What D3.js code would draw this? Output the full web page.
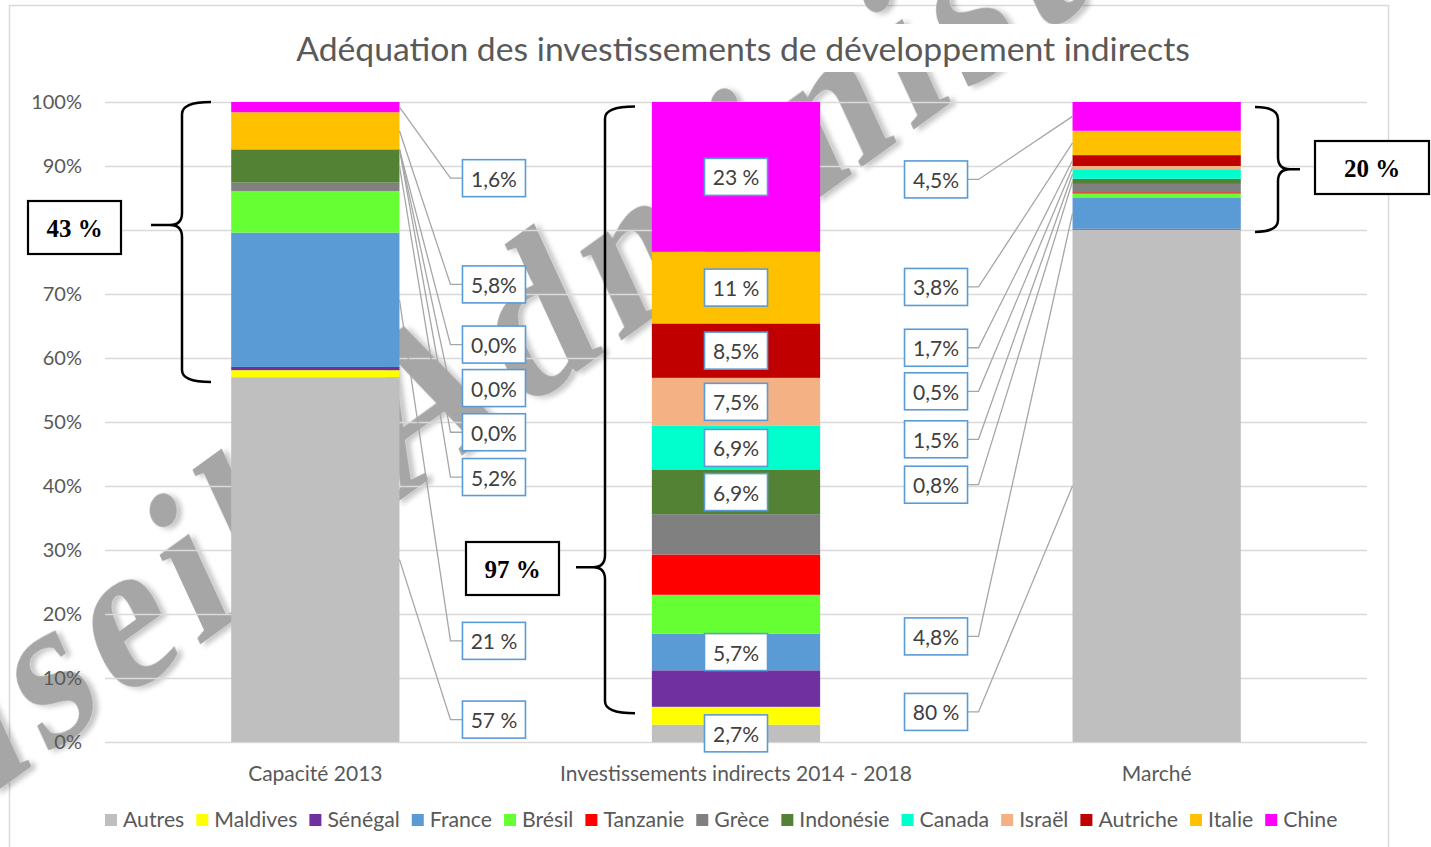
<!DOCTYPE html>
<html>
<head>
<meta charset="utf-8">
<script src="https://cdn.jsdelivr.net/npm/d3@7"></script>
<style>
  body { margin: 0; background: #fff; }
  svg { display: block; }
</style>
</head>
<body>
<svg id="chart" width="1431" height="847"></svg>
<script>
// ---- data ----
var categories = ["Capacité 2013", "Investissements indirects 2014 - 2018", "Marché"];
var series = ["Autres", "Maldives", "Sénégal", "France", "Brésil", "Tanzanie", "Grèce",
              "Indonésie", "Canada", "Israël", "Autriche", "Italie", "Chine"];
var colors = ["#bfbfbf", "#ffff00", "#7030a0", "#5b9bd5", "#66ff33", "#ff0000", "#808080",
              "#548235", "#00ffcc", "#f4b183", "#c00000", "#ffc000", "#ff00ff"];

// shares in %, same order as series (bottom to top)
var capacite        = [57, 1.1, 0.5, 21, 6.5, 0, 1.3, 5.2, 0, 0, 0, 5.8, 1.6];
var investissements = [2.7, 2.8, 5.7, 5.7, 6.1, 6.3, 6.3, 6.9, 6.9, 7.5, 8.5, 11.2, 23.4];
var marche          = [80, 0.05, 0.15, 4.8, 0.7, 0.2, 1.3, 0.8, 1.5, 0.5, 1.7, 3.8, 4.5];

var labeledSeries = ["Autres", "France", "Indonésie", "Canada", "Israël", "Autriche", "Italie", "Chine"];

// brace annotations: total share of the listed countries
var braceLabels = ["43 %", "97 %", "20 %"];

var title = "Adéquation des investissements de développement indirects";
var watermarkText = "Conseil Administratif";

// ---- layout ----
var font = "Lato, 'Open Sans', sans-serif";
var plot = {left: 105, right: 1367, top: 102, bottom: 742};
// where the outside labels sit, in % of the axis (manually placed in the original)
var capLabelPos    = [3.5, 15.8, 41.4, 48.4, 55.3, 62.1, 71.5, 88.1];
var marcheLabelPos = [4.7, 16.5, 40.2, 47.3, 54.8, 61.6, 71.1, 87.9];
var boxW = 63, boxH = 37;

var svg = d3.select("#chart");

var x = d3.scaleBand().domain(categories).range([plot.left, plot.right])
    .paddingInner(0.6).paddingOuter(0.3);
var y = d3.scaleLinear().domain([0, 1]).range([plot.bottom, plot.top]);
var color = d3.scaleOrdinal().domain(series).range(colors);

var allValues = [capacite, investissements, marche];
var table = categories.map(function(c, i) {
    var row = {category: c};
    series.forEach(function(s, j) { row[s] = allValues[i][j]; });
    return row;
});
var stacked = d3.stack().keys(series).offset(d3.stackOffsetExpand)(table);

function fmt(v) {
    if (v >= 10) return d3.format(".0f")(v) + " %";
    return d3.format(".1f")(v).replace(".", ",") + "%";
}

// chart frame
svg.append("rect")
    .attr("x", 9.5).attr("y", 5.5).attr("width", 1379).attr("height", 870)
    .attr("fill", "#fff").attr("stroke", "#d9d9d9").attr("stroke-width", 1.5);

// ---- watermark (behind everything) ----
var defs = svg.append("defs");
var shadow = defs.append("filter").attr("id", "wmShadow")
    .attr("x", "-10%").attr("y", "-10%").attr("width", "120%").attr("height", "120%");
shadow.append("feDropShadow").attr("dx", 5).attr("dy", 5).attr("stdDeviation", 3)
    .attr("flood-color", "#000").attr("flood-opacity", 0.22);

var wmK = 0.8, wmTheta = 30, wmSize = 225;
var wmG = svg.append("g");
var wm = wmG.append("text")
    .text(watermarkText)
    .attr("font-family", "'Liberation Serif', 'DejaVu Serif', serif")
    .attr("font-size", wmSize)
    .attr("font-weight", "bold")
    .attr("letter-spacing", 16)
    .attr("word-spacing", 70)
    .attr("fill", "#a6a6a6")
    .attr("filter", "url(#wmShadow)");
(function() {
    // put the bowl of the "d" of "Adm" at a given spot
    var node = wm.node();
    var idx = watermarkText.indexOf("Ad") + 1;
    var adv = node.getSubStringLength(0, idx) + node.getSubStringLength(idx, 1) / 2;
    var h = wmSize * 0.45 / 2;
    var t = wmTheta * Math.PI / 180;
    var ox = wmK * (adv * Math.cos(t) - h * Math.sin(t));
    var oy = -adv * Math.sin(t) - h * Math.cos(t);
    var target = [548, 335];
    wmG.attr("transform", "translate(" + (target[0] - ox) + "," + (target[1] - oy) + ") scale(" + wmK + ",1) rotate(" + (-wmTheta) + ")");
})();

// ---- grid + y axis ----
var yAxis = svg.append("g")
    .attr("transform", "translate(" + plot.left + ",0)")
    .call(d3.axisLeft(y).ticks(10).tickFormat(d3.format(".0%"))
        .tickSize(-(plot.right - plot.left)).tickPadding(23));
yAxis.select(".domain").remove();
yAxis.selectAll("line").attr("stroke", "#d9d9d9").attr("stroke-width", 1.5);
yAxis.selectAll("text").attr("fill", "#595959")
    .style("font-size", "20px").style("font-family", font);

// ---- category axis ----
var xAxis = svg.append("g")
    .attr("transform", "translate(0," + plot.bottom + ")")
    .call(d3.axisBottom(x).tickSize(0).tickPadding(24));
xAxis.select(".domain").remove();
xAxis.selectAll("text").attr("fill", "#595959")
    .style("font-size", "21px").style("font-family", font);

// ---- bars ----
svg.append("g").selectAll("g")
    .data(stacked)
    .join("g")
    .attr("fill", function(d) { return color(d.key); })
    .selectAll("rect")
    .data(function(d) { return d; })
    .join("rect")
    .attr("x", function(d) { return x(d.data.category); })
    .attr("width", x.bandwidth())
    .attr("y", function(d) { return y(d[1]); })
    .attr("height", function(d) { return y(d[0]) - y(d[1]); });

// ---- data labels ----
var labels = [];
categories.forEach(function(cat, i) {
    labeledSeries.forEach(function(s, k) {
        var j = series.indexOf(s);
        var seg = stacked[j][i];
        var mid = y((seg[0] + seg[1]) / 2);
        var bx = x(cat), bw = x.bandwidth();
        var lab = {text: fmt(allValues[i][j])};
        if (i === 0) {
            lab.x = bx + bw + 63;
            lab.y = y(capLabelPos[k] / 100) - boxH / 2;
            lab.line = [[bx + bw, mid], [lab.x - 12, lab.y + boxH / 2], [lab.x, lab.y + boxH / 2]];
        } else if (i === 1) {
            lab.x = bx + bw / 2 - boxW / 2;
            lab.y = mid - boxH / 2;
        } else {
            var right = bx - 105;
            lab.x = right - boxW;
            lab.y = y(marcheLabelPos[k] / 100) - boxH / 2;
            lab.line = [[bx, mid], [right + 11, lab.y + boxH / 2], [right, lab.y + boxH / 2]];
        }
        labels.push(lab);
    });
});

svg.append("g").selectAll("polyline")
    .data(labels.filter(function(d) { return d.line; }))
    .join("polyline")
    .attr("points", function(d) { return d.line.map(function(p) { return p.join(","); }).join(" "); })
    .attr("fill", "none").attr("stroke", "#a6a6a6").attr("stroke-width", 1.3);

var labG = svg.append("g").selectAll("g").data(labels).join("g")
    .attr("transform", function(d) { return "translate(" + d.x + "," + d.y + ")"; });
labG.append("rect")
    .attr("width", boxW).attr("height", boxH)
    .attr("fill", "#fff").attr("stroke", "#5b9bd5").attr("stroke-width", 1.6);
labG.append("text")
    .attr("x", boxW / 2).attr("y", boxH / 2)
    .attr("text-anchor", "middle").attr("dominant-baseline", "central")
    .attr("fill", "#404040").style("font-size", "21px").style("font-family", font)
    .text(function(d) { return d.text; });

// ---- braces ----
var braces = [
    {label: braceLabels[0], xv: 182, xh: 211, xt: 151, top: 1.0,   bottom: 0.5625, tip: 0.808, box: [28, 201, 93, 53]},
    {label: braceLabels[1], xv: 605, xh: 635, xt: 576, top: 0.993, bottom: 0.045,  tip: 0.273, box: [466, 542, 93, 53]},
    {label: braceLabels[2], xv: 1278, xh: 1255, xt: 1300, top: 0.992, bottom: 0.797, tip: 0.895, box: [1315, 141, 114, 53]}
];
function bracePath(b) {
    var r = 12;
    var t = y(b.top), bo = y(b.bottom), m = y(b.tip);
    var dir = b.xt < b.xv ? -1 : 1;
    return "M" + b.xh + "," + t +
        " Q" + b.xv + "," + t + " " + b.xv + "," + (t + r) +
        " L" + b.xv + "," + (m - r) +
        " Q" + b.xv + "," + m + " " + (b.xv + dir * r) + "," + m +
        " L" + b.xt + "," + m +
        " M" + (b.xv + dir * r) + "," + m +
        " Q" + b.xv + "," + m + " " + b.xv + "," + (m + r) +
        " L" + b.xv + "," + (bo - r) +
        " Q" + b.xv + "," + bo + " " + b.xh + "," + bo;
}
var braceG = svg.append("g").selectAll("g").data(braces).join("g");
braceG.append("path").attr("d", bracePath)
    .attr("fill", "none").attr("stroke", "#000").attr("stroke-width", 2.5);
braceG.append("rect")
    .attr("x", function(d) { return d.box[0]; }).attr("y", function(d) { return d.box[1]; })
    .attr("width", function(d) { return d.box[2]; }).attr("height", function(d) { return d.box[3]; })
    .attr("fill", "#fff").attr("stroke", "#000").attr("stroke-width", 2.2);
braceG.append("text")
    .attr("x", function(d) { return d.box[0] + d.box[2] / 2; })
    .attr("y", function(d) { return d.box[1] + d.box[3] / 2 + 1; })
    .attr("text-anchor", "middle").attr("dominant-baseline", "central")
    .attr("font-family", "'Liberation Serif', 'Times New Roman', serif")
    .attr("font-weight", "bold").attr("font-size", 25).attr("fill", "#000")
    .text(function(d) { return d.label; });

// ---- title ----
var titleBg = svg.append("rect").attr("fill", "#fff");
var titleText = svg.append("text")
    .attr("x", 743).attr("y", 61)
    .attr("text-anchor", "middle")
    .attr("fill", "#595959").style("font-family", font).style("font-size", "30px")
    .text(title);
var tw = titleText.node().getComputedTextLength();
titleText.style("font-size", (30 * 894 / tw) + "px");
var tb = titleText.node().getBBox();
titleBg.attr("x", tb.x - 8).attr("y", tb.y - 4).attr("width", tb.width + 16).attr("height", tb.height + 8);

// ---- legend ----
var legend = svg.append("g").attr("transform", "translate(0,820)");
var items = legend.selectAll("g").data(series).join("g");
items.append("rect").attr("width", 12).attr("height", 12).attr("y", -6)
    .attr("fill", function(d) { return color(d); });
var legText = items.append("text").attr("x", 18).attr("dy", "0.35em")
    .attr("fill", "#595959").style("font-family", font).style("font-size", "21px")
    .text(function(d) { return d; });
var natural = 0;
legText.each(function() { natural += this.getComputedTextLength(); });
var target = (1338 - 105) - series.length * 18 - (series.length - 1) * 12;
legText.style("font-size", (21 * target / natural) + "px");
var cursor = 105;
items.each(function() {
    var w = d3.select(this).select("text").node().getComputedTextLength();
    d3.select(this).attr("transform", "translate(" + cursor + ",0)");
    cursor += 18 + w + 12;
});
</script>
</body>
</html>
